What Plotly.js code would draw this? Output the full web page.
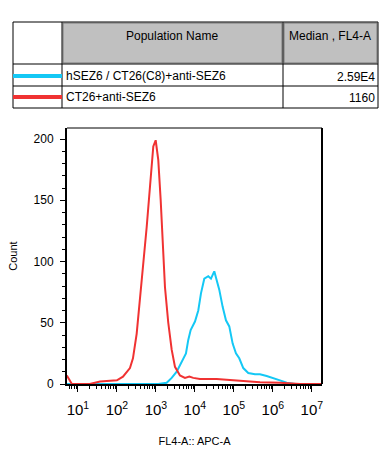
<!DOCTYPE html>
<html>
<head>
<meta charset="utf-8">
<script src="https://cdn.plot.ly/plotly-3.0.1.min.js"></script>
<style>html,body{margin:0;padding:0;background:#fff;}#chart{width:389px;height:461px;}</style>
</head>
<body>
<div id="chart"></div>
<script>
// ---- data ----
const blueName = "hSEZ6 / CT26(C8)+anti-SEZ6";
const redName = "CT26+anti-SEZ6";
const blueMedian = "2.59E4";
const redMedian = "1160";
const tableHeaders = ["Population Name", "Median , FL4-A"];

const redX = [5.2, 7.0, 20, 37, 100, 143, 216, 258, 321, 391, 475, 580, 705, 857, 987, 1150, 1327, 1493, 1710, 2076, 2540, 3085, 4144, 5565, 7200, 9085, 13490, 36140, 94600, 171000, 467000, 1520000, 4960000, 18000000];
const redY = [7, 0, 0, 2, 3, 6, 13, 21, 41, 69, 96, 128, 161, 194, 199, 183, 150, 112, 79, 50, 28, 14, 7, 5, 6, 5, 4, 4, 3, 2, 1.5, 1, 0, 0];

const blueX = [5.2, 1150, 1890, 2540, 3415, 4585, 5900, 6760, 7790, 10050, 12210, 14320, 17420, 22040, 25840, 31410, 36140, 42170, 51520, 62650, 76200, 93100, 113000, 137400, 174200, 233900, 347500, 467000, 693000, 1023000, 1520000, 2256000, 3680000, 18000000];
const blueY = [0, 0, 1, 5, 10, 18, 25, 36, 44, 51, 60, 74, 86, 88, 86, 92, 85, 77, 63, 52, 47, 33, 25, 21, 13, 9, 8, 8, 6.5, 5, 3, 1, 0, 0];

const xTickVals = [1e1, 1e2, 1e3, 1e4, 1e5, 1e6, 1e7];
const xTickText = ["10<sup>1</sup>", "10<sup>2</sup>", "10<sup>3</sup>", "10<sup>4</sup>", "10<sup>5</sup>", "10<sup>6</sup>", "10<sup>7</sup>"];
const yTickVals = [0, 50, 100, 150, 200];

// ---- layout helpers (pixel -> paper) ----
const W = 389, H = 461;
const L = 67, R = 322, T = 128, B = 384;
const px = x => (x - L) / (R - L);
const py = y => (B - y) / (B - T);

const FONT = "Liberation Sans, Arial, sans-serif";
const BLUE = "#14c8f5";
const RED = "#f03232";

const shapes = [];
const annotations = [];
function rect(x0, y0, x1, y1, opts) {
  shapes.push(Object.assign({type: "rect", xref: "paper", yref: "paper",
    x0: px(x0), x1: px(x1), y0: py(y1), y1: py(y0), layer: "above"}, opts));
}
function line(x0, y0, x1, y1, color, width) {
  shapes.push({type: "line", xref: "paper", yref: "paper",
    x0: px(x0), x1: px(x1), y0: py(y0), y1: py(y1), layer: "above",
    line: {color: color, width: width}});
}
function text(t, x, y, anchor) {
  annotations.push({text: t, xref: "paper", yref: "paper", x: px(x), y: py(y),
    xanchor: anchor, yanchor: "middle", showarrow: false,
    font: {family: FONT, size: 12, color: "#000"}});
}

// header cells
rect(63, 23, 282, 63, {fillcolor: "#c0c0c0", line: {color: "#7a7a7a", width: 1}});
rect(284, 23, 377, 63, {fillcolor: "#c0c0c0", line: {color: "#7a7a7a", width: 1}});
// table grid
rect(13, 22, 378, 108, {line: {color: "#000", width: 1}});
line(62, 22, 62, 108, "#000", 1);
line(283, 22, 283, 108, "#000", 1);
line(13, 64, 378, 64, "#000", 1);
line(13, 86, 378, 86, "#000", 1);
// legend swatches
line(13, 76, 62, 76, BLUE, 4);
line(13, 97, 62, 97, RED, 4);

text(tableHeaders[0], 172, 36, "center");
text(tableHeaders[1], 330, 36, "center");
text(blueName, 64, 76, "left");
text(redName, 64, 97, "left");
text(blueMedian, 377, 77, "right");
text(redMedian, 377, 98, "right");

// plot box: thin top border, thick right border
line(L, T, R, T, "#000", 1);
shapes.push({type: "line", xref: "paper", yref: "paper", x0: 1, x1: 1, y0: 0, y1: 1,
  layer: "above", line: {color: "#000", width: 2}});

const traces = [
  {x: blueX, y: blueY, type: "scatter", mode: "lines", name: blueName,
   line: {color: BLUE, width: 2}},
  {x: redX, y: redY, type: "scatter", mode: "lines", name: redName,
   line: {color: RED, width: 2}}
];

const layout = {
  width: W, height: H,
  margin: {l: L, r: W - R, t: T, b: H - B, pad: 0},
  paper_bgcolor: "#fff", plot_bgcolor: "#fff",
  showlegend: false,
  font: {family: FONT, size: 12, color: "#000"},
  xaxis: {
    type: "log", range: [0.72, 7.26], autorange: false,
    tickvals: xTickVals, ticktext: xTickText,
    ticks: "outside", ticklen: 6, tickwidth: 1, tickcolor: "#000",
    ticklabelstandoff: 5,
    minor: {ticks: "outside", ticklen: 3, tickcolor: "#000", dtick: "D1", showgrid: false},
    tickfont: {family: FONT, size: 15, color: "#000"},
    showgrid: false, zeroline: false,
    showline: true, linecolor: "#000", linewidth: 2, mirror: false,
    title: {text: "FL4-A:: APC-A", font: {family: FONT, size: 11, color: "#000"}, standoff: 20}
  },
  yaxis: {
    range: [0, 209], autorange: false,
    tickvals: yTickVals,
    ticks: "outside", ticklen: 5, tickwidth: 1, tickcolor: "#000",
    ticklabelstandoff: 4,
    minor: {ticks: "outside", ticklen: 3, tickcolor: "#000", dtick: 10, showgrid: false},
    tickfont: {family: FONT, size: 12, color: "#000"},
    showgrid: false, zeroline: false,
    showline: true, linecolor: "#000", linewidth: 2, mirror: false,
    title: {text: "Count", font: {family: FONT, size: 11, color: "#000"}, standoff: 14}
  },
  shapes: shapes,
  annotations: annotations
};

Plotly.newPlot("chart", traces, layout, {staticPlot: true, displayModeBar: false});
</script>
</body>
</html>
